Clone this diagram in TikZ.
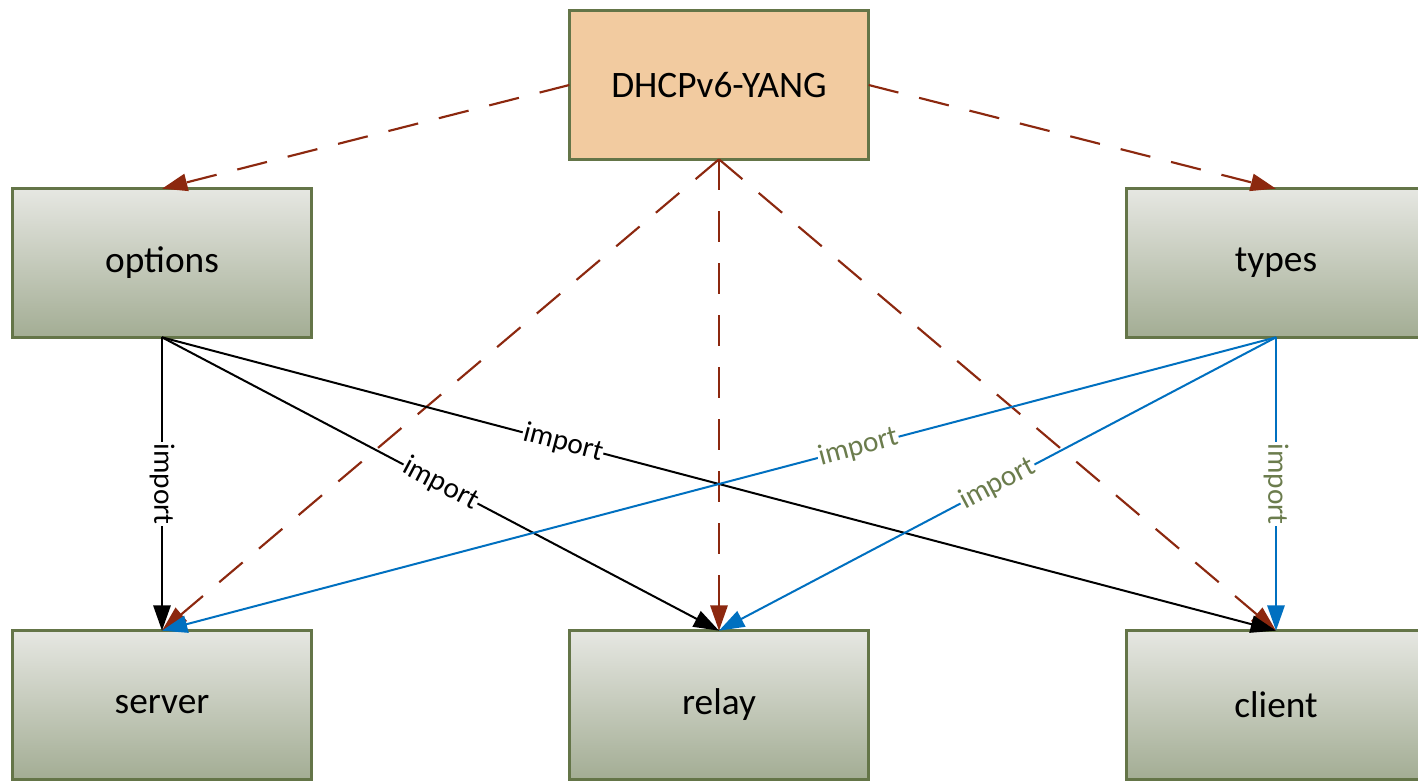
\documentclass[tikz,border=0pt]{standalone}
\usepackage{fontspec}
\setmainfont{Carlito}
\usetikzlibrary{arrows.meta}
\definecolor{bord}{RGB}{100,117,72}
\definecolor{topfill}{RGB}{242,203,160}
\definecolor{gtop}{RGB}{230,231,226}
\definecolor{gbot}{RGB}{163,173,148}
\definecolor{dred}{RGB}{140,40,15}
\definecolor{iblue}{RGB}{0,112,192}
\definecolor{lgreen}{RGB}{107,124,77}
\begin{document}
\begin{tikzpicture}[x=0.75pt,y=-0.75pt,
  box/.style={draw=bord, line width=2.2pt, minimum width=224.5pt, minimum height=111.5pt,
    inner sep=0pt, outer sep=0pt, font=\fontsize{28}{33}\selectfont},
  gbox/.style={box, top color=gtop, bottom color=gbot},
  dep/.style={draw=dred, line width=1.6pt, dash pattern=on 23pt off 16pt,
    -{Triangle[length=19pt,width=13pt]}},
  blk/.style={draw=black, line width=1.5pt, -{Triangle[length=19pt,width=13pt]}},
  blu/.style={draw=iblue, line width=1.5pt, -{Triangle[length=19pt,width=13pt]}},
  lbl/.style={fill=white, inner sep=0.8pt, font=\fontsize{22}{26}\selectfont},
  glbl/.style={lbl, text=lgreen}]
\useasboundingbox (0,0) rectangle (1418,781);
\fill[white] (0,0) rectangle (1418,781);
\node[box, fill=topfill] (top) at (719,85) {DHCPv6-YANG};
\node[gbox] (options) at (162,263) {options};
\node[gbox] (types) at (1276,263) {types};
\node[gbox] (server) at (162,705) {server};
\node[gbox] (relay) at (719,705) {relay};
\node[gbox] (client) at (1276,705) {client};
% dashed dependencies
\draw[dep] (top.west) -- (options.north);
\draw[dep] (top.east) -- (types.north);
\draw[dep] (top.south) -- (server.north);
\draw[dep] (top.south) -- (relay.north);
\draw[dep] (top.south) -- (client.north);
% options imports
\draw[blk] (options.south) -- node[lbl, rotate=-90] {import} (server.north);
\draw[blk] (options.south) -- node[lbl, sloped] {import} (relay.north);
\draw[blk] (options.south) -- node[lbl, sloped, pos=0.36] {import} (client.north);
% types imports
\draw[blu] (types.south) -- node[glbl, sloped, pos=0.375] {import} (server.north);
\draw[blu] (types.south) -- node[glbl, sloped] {import} (relay.north);
\draw[blu] (types.south) -- node[glbl, rotate=-90] {import} (client.north);
\end{tikzpicture}
\end{document}
